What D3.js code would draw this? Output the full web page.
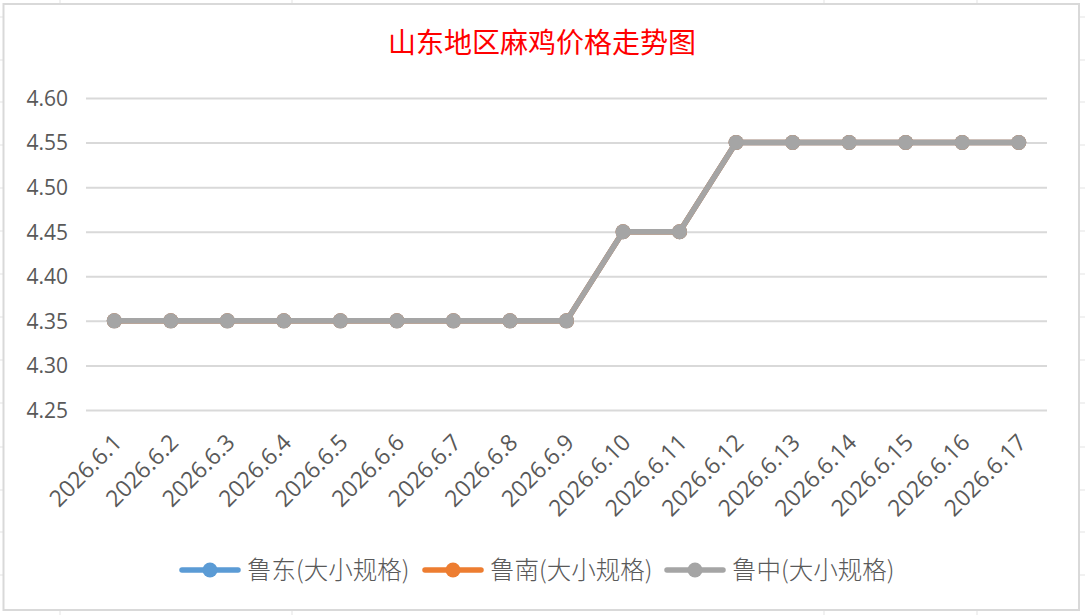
<!DOCTYPE html>
<html><head><meta charset="utf-8">
<script src="https://cdn.jsdelivr.net/npm/d3@7/dist/d3.min.js"></script>
<style>body{margin:0;background:#fff;}svg{display:block;}</style>
</head><body>
<svg id="c" width="1085" height="615"></svg>
<script>
const categories = ["2026.6.1","2026.6.2","2026.6.3","2026.6.4","2026.6.5","2026.6.6","2026.6.7","2026.6.8","2026.6.9","2026.6.10","2026.6.11","2026.6.12","2026.6.13","2026.6.14","2026.6.15","2026.6.16","2026.6.17"];
const ludong  = [4.35,4.35,4.35,4.35,4.35,4.35,4.35,4.35,4.35,4.45,4.45,4.55,4.55,4.55,4.55,4.55,4.55];
const lunan   = [4.35,4.35,4.35,4.35,4.35,4.35,4.35,4.35,4.35,4.45,4.45,4.55,4.55,4.55,4.55,4.55,4.55];
const luzhong = [4.35,4.35,4.35,4.35,4.35,4.35,4.35,4.35,4.35,4.45,4.45,4.55,4.55,4.55,4.55,4.55,4.55];
const seriesNames = ["鲁东(大小规格)","鲁南(大小规格)","鲁中(大小规格)"];
const seriesColors = ["#5B9BD5","#ED7D31","#A5A5A5"];
const yTicks = [4.25,4.30,4.35,4.40,4.45,4.50,4.55,4.60];
const title = "山东地区麻鸡价格走势图";

const svg = d3.select("#c");
const font = "'Open Sans','Noto Sans CJK SC',sans-serif";

// sheet background grid
const sheetCols = [60,292,824,977];
const sheetRows = [17,60,102,145,188,231,274,317,360,403,447,490,532,575];
sheetCols.forEach(x=>svg.append("line").attr("x1",x).attr("x2",x).attr("y1",0).attr("y2",615).attr("stroke","#e3e3e3").attr("stroke-width",1));
sheetRows.forEach(y=>svg.append("line").attr("x1",0).attr("x2",1085).attr("y1",y).attr("y2",y).attr("stroke","#e3e3e3").attr("stroke-width",1));
// chart area
svg.append("rect").attr("x",3.5).attr("y",4).attr("width",1075.5).attr("height",606)
  .attr("fill","#fff").attr("stroke","#d9d9d9").attr("stroke-width",2);

const x = d3.scaleBand().domain(categories).range([86,1047]).padding(0);
const y = d3.scaleLinear().domain([4.25,4.60]).range([410,98]);

// gridlines
const yAxis = d3.axisLeft(y).tickValues(yTicks).tickFormat(d3.format(".2f")).tickSize(-(1047-86)).tickPadding(18);
const gy = svg.append("g").attr("transform","translate(86,0)").call(yAxis);
gy.select(".domain").remove();
gy.selectAll(".tick line").attr("stroke","#d9d9d9").attr("stroke-width",2);
gy.selectAll(".tick text").attr("fill","#595959").style("font-family",font).style("font-size","21px").attr("dy","0.35em");

// x labels
const xAxis = d3.axisBottom(x).tickSize(0).tickPadding(0);
const gx = svg.append("g").attr("transform","translate(0,410)").call(xAxis);
gx.select(".domain").remove();
gx.selectAll(".tick text")
  .attr("fill","#595959").style("font-family",font).style("font-size","23px")
  .attr("text-anchor","end").attr("dy",0).attr("y",0)
  .attr("transform","translate(9,34) rotate(-45)");

// series
const allSeries = [ludong, lunan, luzhong];
const line = d3.line().x((d,i)=>x(categories[i])+x.bandwidth()/2).y(d=>y(d));
allSeries.forEach((vals,si)=>{
  const g = svg.append("g");
  g.append("path").datum(vals).attr("d",line).attr("fill","none")
    .attr("stroke",seriesColors[si]).attr("stroke-width",5.5).attr("stroke-linejoin","round").attr("stroke-linecap","round");
  g.selectAll("circle").data(vals).join("circle")
    .attr("cx",(d,i)=>x(categories[i])+x.bandwidth()/2).attr("cy",d=>y(d)).attr("r",7.5)
    .attr("fill",seriesColors[si]);
});

// title
svg.append("text").attr("x",542).attr("y",53).attr("text-anchor","middle")
  .attr("fill","#FF0000").style("font-family","'Noto Sans CJK SC',serif").style("font-size","28px")
  .text(title);

// legend
const legendX = [180,423,665];
seriesNames.forEach((n,i)=>{
  const g = svg.append("g").attr("transform",`translate(${legendX[i]},570)`);
  g.append("line").attr("x1",2).attr("x2",58).attr("y1",0).attr("y2",0)
    .attr("stroke",seriesColors[i]).attr("stroke-width",5.5).attr("stroke-linecap","round");
  g.append("circle").attr("cx",30).attr("cy",0).attr("r",7.5).attr("fill",seriesColors[i]);
  g.append("text").attr("x",67).attr("y",0).attr("dy","0.35em").attr("fill","#595959")
    .style("font-family","'Noto Sans CJK SC',sans-serif").style("font-size","24.5px").style("font-weight","300").text(n);
});
</script>
</body></html>
